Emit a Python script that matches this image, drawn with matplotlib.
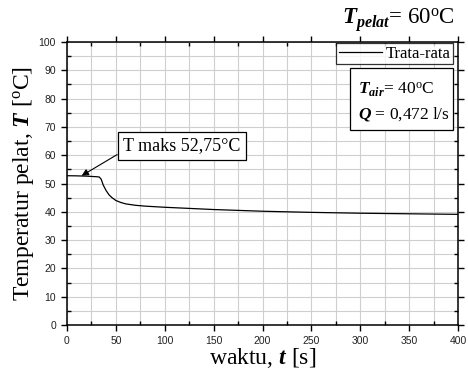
import matplotlib
matplotlib.use("Agg")
import matplotlib.pyplot as plt
from matplotlib.ticker import MultipleLocator
from matplotlib.patches import Rectangle

plt.rcParams['mathtext.fontset'] = 'custom'
plt.rcParams['mathtext.rm'] = 'Liberation Serif'
plt.rcParams['mathtext.it'] = 'Liberation Serif:italic'
plt.rcParams['mathtext.bf'] = 'Liberation Serif:bold'
plt.rcParams['mathtext.bfit'] = 'Liberation Serif:bold:italic'

# data
t_s = [0, 10, 20, 30, 33, 35, 37, 40, 43, 46, 50, 55, 60, 70, 80, 100, 125, 150, 175, 200, 250, 300, 350, 400]
T_avg = [52.75, 52.7, 52.6, 52.4, 52.3, 51.5, 49.5, 47.5, 46.0, 45.0, 44.0, 43.3, 42.8, 42.3, 42.0, 41.6, 41.2, 40.8, 40.5, 40.2, 39.8, 39.5, 39.3, 39.1]
x_ticks = [0, 50, 100, 150, 200, 250, 300, 350, 400]
y_ticks = [0, 10, 20, 30, 40, 50, 60, 70, 80, 90, 100]
peak_t, peak_T = 15, 52.75

serif = 'Liberation Serif'
sans = 'Liberation Sans'

fig = plt.figure(figsize=(4.68, 3.69), dpi=100)
ax = fig.add_axes([67/468, 44/369, (458-67)/468, (325-42)/369])

ax.plot(t_s, T_avg, color='black', lw=0.9, label='Trata-rata')

ax.set_xlim(0, 400)
ax.set_ylim(0, 100)
ax.set_xticks(x_ticks)
ax.set_yticks(y_ticks)
ax.xaxis.set_minor_locator(MultipleLocator(25))
ax.yaxis.set_minor_locator(MultipleLocator(5))
ax.grid(True, which='both', color='#cfcfcf', lw=0.8)
ax.set_axisbelow(True)
ax.tick_params(which='major', direction='out', length=4, width=1, top=True, right=True,
               labelsize=7.5, pad=4, labelcolor='#222222')
ax.tick_params(which='minor', direction='in', length=3, width=1, top=True, right=True)
for lab in ax.get_xticklabels() + ax.get_yticklabels():
    lab.set_fontfamily(sans)
for sp in ax.spines.values():
    sp.set_linewidth(1.1)

ax.set_xlabel(r'waktu, $\mathbfit{t}$ [s]', fontfamily=serif, fontsize=17, labelpad=0)
ax.set_ylabel(r'Temperatur pelat, $\mathbfit{T}$ [$^{\mathrm{o}}$C]', fontfamily=serif, fontsize=17, labelpad=2)

fig.text(455/468, 1 - 20/369, r'$\mathbfit{T}_{\mathbfit{pelat}}$= 60$^{\mathrm{o}}$C', ha='right', va='center',
         fontfamily=serif, fontsize=16.5)

ax.annotate('T maks 52,75°C', xy=(peak_t, peak_T), xytext=(123/468, 1 - 146/369), textcoords='figure fraction',
            ha='left', va='center', fontfamily=serif, fontsize=13,
            bbox=dict(boxstyle='square,pad=0.3', fc='white', ec='black', lw=0.9),
            arrowprops=dict(arrowstyle='-|>', color='black', lw=0.8, mutation_scale=10, shrinkA=0, shrinkB=0,
                            relpos=(0, 0.2)))

leg = ax.legend(loc='upper right', bbox_to_anchor=(0.987, 0.995), prop={'family': serif, 'size': 12},
                frameon=True, fancybox=False, edgecolor='black', handlelength=2.6, borderpad=0.15,
                handletextpad=0.2, borderaxespad=0)
leg.get_frame().set_linewidth(0.9)

ax.add_patch(Rectangle((0.7238, 0.689), 0.987 - 0.7238, 0.908 - 0.689, transform=ax.transAxes,
                       fc='white', ec='black', lw=0.9, zorder=5))
ax.text(0.745, 0.830, r'$\mathbfit{T}_{\mathbfit{air}}$= 40$^{\mathrm{o}}$C', transform=ax.transAxes,
        ha='left', va='center', fontfamily=serif, fontsize=12.5, zorder=6)
ax.text(0.745, 0.745, r'$\mathbfit{Q}$ = 0,472 l/s', transform=ax.transAxes,
        ha='left', va='center', fontfamily=serif, fontsize=12.5, zorder=6)

fig.savefig('out.png', dpi=100)
